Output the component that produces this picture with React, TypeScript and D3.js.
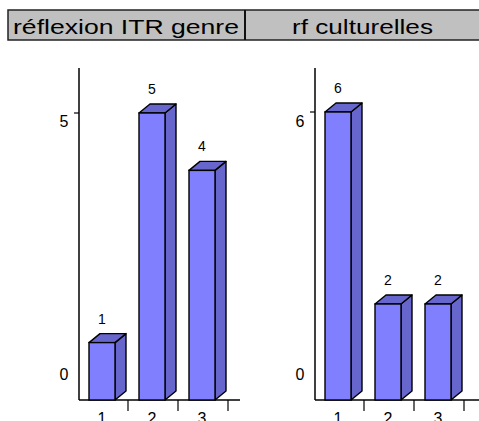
import React, { useRef, useEffect } from 'react';
import * as d3 from 'd3';

const categories = ['1', '2', '3'];
const panelTitles = ['réflexion ITR genre', 'rf culturelles'];
const genreValues = [1, 5, 4];
const culturellesValues = [6, 2, 2];
const genreTicks = [0, 5];
const culturellesTicks = [0, 6];

const App = () => {
  const svgRef = useRef<SVGSVGElement>(null);

  useEffect(() => {
    const svg = d3.select(svgRef.current);
    svg.selectAll('*').remove();

    const font = 'Arial, "Liberation Sans", sans-serif';

    // header band
    const header = svg.append('g');
    header
      .append('rect')
      .attr('x', 8)
      .attr('y', 10)
      .attr('width', 480)
      .attr('height', 30)
      .style('fill', '#c0c0c0')
      .style('stroke', '#222')
      .style('stroke-width', 1.5);
    header
      .append('line')
      .attr('x1', 245)
      .attr('x2', 245)
      .attr('y1', 10)
      .attr('y2', 40)
      .style('stroke', '#111')
      .style('stroke-width', 2);
    header
      .append('text')
      .text(panelTitles[0])
      .attr('x', 13)
      .attr('y', 34)
      .attr('textLength', 226)
      .attr('lengthAdjust', 'spacingAndGlyphs')
      .style('font-family', font)
      .style('font-size', '21px');
    header
      .append('text')
      .text(panelTitles[1])
      .attr('x', 292)
      .attr('y', 34)
      .attr('textLength', 141)
      .attr('lengthAdjust', 'spacingAndGlyphs')
      .style('font-family', font)
      .style('font-size', '21px');

    const panels = [
      { values: genreValues, ticks: genreTicks, left: 78, axisEnd: 240, frontTop: 113 },
      { values: culturellesValues, ticks: culturellesTicks, left: 314, axisEnd: 479, frontTop: 112 },
    ];

    const baseY = 400;
    const axisTop = 68;
    const dx = 11;
    const dy = 9;
    const barW = 26;

    panels.forEach((p) => {
      const maxTick = d3.max(p.ticks) as number;
      const x = d3.scaleBand().domain(categories).range([p.left, p.left + 150]);
      const y = d3.scaleLinear().domain([0, maxTick]).range([baseY, p.frontTop]);
      // tick labels sit a bit off the ticks in the original
      const yLabel = d3.scaleLinear().domain([0, maxTick]).range([380, 127]);
      const g = svg.append('g');
      const axisX = p.left + 1;

      // value axis
      g.append('line')
        .attr('x1', axisX)
        .attr('x2', axisX)
        .attr('y1', axisTop)
        .attr('y2', baseY)
        .style('stroke', '#000')
        .style('stroke-width', 1.5);
      p.ticks.filter((t) => t > 0).forEach((t) => {
        g.append('line')
          .attr('x1', axisX - 5)
          .attr('x2', axisX)
          .attr('y1', y(t))
          .attr('y2', y(t))
          .style('stroke', '#000')
          .style('stroke-width', 1.2);
      });
      p.ticks.forEach((t) => {
        g.append('text')
          .text(t)
          .attr('x', axisX - 15)
          .attr('y', yLabel(t))
          .attr('text-anchor', 'middle')
          .style('font-family', font)
          .style('font-size', '16px');
      });

      // category axis
      g.append('line')
        .attr('x1', axisX)
        .attr('x2', p.axisEnd)
        .attr('y1', baseY)
        .attr('y2', baseY)
        .style('stroke', '#000')
        .style('stroke-width', 1.5);
      categories.forEach((c) => {
        const end = (x(c) as number) + x.bandwidth();
        g.append('line')
          .attr('x1', end)
          .attr('x2', end)
          .attr('y1', baseY)
          .attr('y2', baseY + 11)
          .style('stroke', '#000')
          .style('stroke-width', 1.2);
        g.append('text')
          .text(c)
          .attr('x', (x(c) as number) + 11 + barW / 2)
          .attr('y', 424)
          .attr('text-anchor', 'middle')
          .style('font-family', font)
          .style('font-size', '16px');
      });

      // bars
      p.values.forEach((v, i) => {
        const bx = (x(categories[i]) as number) + 11;
        const top = y(v);
        const bottom = baseY;
        g.append('polygon')
          .attr('points', [[bx + barW, top], [bx + barW + dx, top - dy], [bx + barW + dx, bottom - dy], [bx + barW, bottom]].map((d) => d.join(',')).join(' '))
          .style('fill', '#6666cc')
          .style('stroke', '#000')
          .style('stroke-width', 1.4)
          .style('stroke-linejoin', 'round');
        g.append('polygon')
          .attr('points', [[bx, top], [bx + dx, top - dy], [bx + barW + dx, top - dy], [bx + barW, top]].map((d) => d.join(',')).join(' '))
          .style('fill', '#6666cc')
          .style('stroke', '#000')
          .style('stroke-width', 1.4)
          .style('stroke-linejoin', 'round');
        g.append('rect')
          .attr('x', bx)
          .attr('y', top)
          .attr('width', barW)
          .attr('height', bottom - top)
          .style('fill', '#8080ff')
          .style('stroke', '#000')
          .style('stroke-width', 1.4);
        g.append('text')
          .text(v)
          .attr('x', bx + barW / 2)
          .attr('y', top - 19)
          .attr('text-anchor', 'middle')
          .style('font-family', font)
          .style('font-size', '14px');
      });
    });
  }, []);

  return (
    <svg
      ref={svgRef}
      width="479"
      height="421"
      style={{ position: 'absolute', left: 0, top: 0, background: '#fff' }}
    ></svg>
  );
};

export default App;
